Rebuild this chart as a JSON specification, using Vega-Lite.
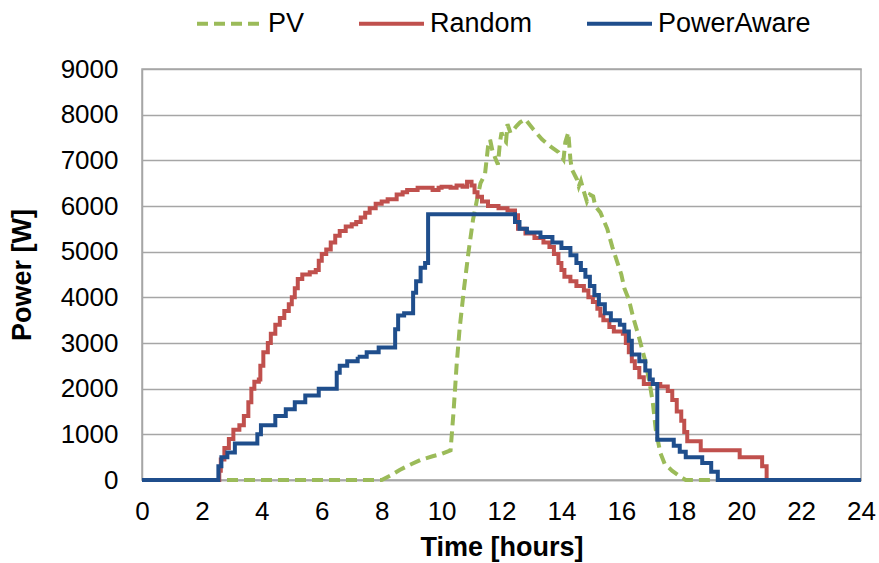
{
  "$schema": "https://vega.github.io/schema/vega-lite/v6.json",
  "autosize": {"type": "none"},
  "width": 719,
  "height": 411,
  "padding": {"left": 142, "top": 69, "right": 18, "bottom": 83},
  "background": "white",
  "config": {
    "font": "Liberation Sans",
    "view": {"stroke": "#a6a6a6", "strokeWidth": 1.5},
    "axis": {"labelFont": "Liberation Sans", "titleFont": "Liberation Sans", "labelColor": "#000000", "titleColor": "#000000", "labelFontSize": 26, "titleFontSize": 27, "titleFontWeight": "bold", "ticks": false, "domainColor": "#a6a6a6", "domainWidth": 1.5, "gridColor": "#a6a6a6", "gridWidth": 1.5}
  },
  "datasets": {
    "pv": [
      {"t":0,"p":0},{"t":8.0,"p":0},{"t":8.3,"p":100},{"t":8.6,"p":220},{"t":9.0,"p":350},{"t":9.3,"p":440},{"t":9.7,"p":520},{"t":10.0,"p":570},{"t":10.3,"p":650},{"t":10.4,"p":1500},{"t":10.5,"p":2500},{"t":10.6,"p":3300},{"t":10.75,"p":4200},{"t":10.9,"p":5000},{"t":11.05,"p":5700},{"t":11.2,"p":6200},{"t":11.3,"p":6500},{"t":11.45,"p":6700},{"t":11.55,"p":7300},{"t":11.62,"p":7450},{"t":11.7,"p":7200},{"t":11.78,"p":7070},{"t":11.88,"p":6910},{"t":11.95,"p":7400},{"t":12.0,"p":7610},{"t":12.08,"p":7450},{"t":12.15,"p":7400},{"t":12.2,"p":7790},{"t":12.3,"p":7600},{"t":12.38,"p":7650},{"t":12.5,"p":7750},{"t":12.62,"p":7830},{"t":12.79,"p":7900},{"t":13.06,"p":7680},{"t":13.35,"p":7460},{"t":13.62,"p":7310},{"t":13.9,"p":7180},{"t":14.07,"p":7020},{"t":14.13,"p":7400},{"t":14.23,"p":7610},{"t":14.3,"p":7020},{"t":14.35,"p":6800},{"t":14.52,"p":6580},{"t":14.58,"p":6430},{"t":14.65,"p":6550},{"t":14.73,"p":6360},{"t":14.85,"p":6100},{"t":14.95,"p":6250},{"t":15.06,"p":6210},{"t":15.13,"p":6000},{"t":15.3,"p":5860},{"t":15.53,"p":5500},{"t":15.7,"p":5100},{"t":15.85,"p":4800},{"t":16.0,"p":4500},{"t":16.1,"p":4200},{"t":16.25,"p":3950},{"t":16.4,"p":3550},{"t":16.6,"p":3100},{"t":16.8,"p":2600},{"t":16.95,"p":2100},{"t":17.05,"p":1700},{"t":17.15,"p":1100},{"t":17.3,"p":600},{"t":17.45,"p":350},{"t":17.7,"p":200},{"t":17.95,"p":80},{"t":18.15,"p":0},{"t":24,"p":0}
    ],
    "random": [
      {"t":0,"p":0},{"t":2.58,"p":200},{"t":2.63,"p":450},{"t":2.75,"p":700},{"t":2.9,"p":900},{"t":3.05,"p":1100},{"t":3.25,"p":1200},{"t":3.4,"p":1400},{"t":3.55,"p":1700},{"t":3.65,"p":2000},{"t":3.75,"p":2150},{"t":3.9,"p":2200},{"t":3.95,"p":2500},{"t":4.05,"p":2800},{"t":4.2,"p":3000},{"t":4.3,"p":3200},{"t":4.45,"p":3400},{"t":4.6,"p":3550},{"t":4.75,"p":3700},{"t":4.9,"p":3850},{"t":5.0,"p":4000},{"t":5.1,"p":4200},{"t":5.2,"p":4400},{"t":5.35,"p":4500},{"t":5.6,"p":4550},{"t":5.8,"p":4600},{"t":5.9,"p":4800},{"t":6.0,"p":4950},{"t":6.15,"p":5050},{"t":6.3,"p":5200},{"t":6.45,"p":5350},{"t":6.6,"p":5450},{"t":6.8,"p":5550},{"t":7.0,"p":5600},{"t":7.15,"p":5650},{"t":7.3,"p":5750},{"t":7.45,"p":5850},{"t":7.6,"p":5950},{"t":7.8,"p":6050},{"t":8.0,"p":6100},{"t":8.2,"p":6150},{"t":8.5,"p":6250},{"t":8.7,"p":6300},{"t":8.85,"p":6350},{"t":9.2,"p":6400},{"t":9.7,"p":6350},{"t":9.9,"p":6400},{"t":10.0,"p":6420},{"t":10.3,"p":6400},{"t":10.5,"p":6450},{"t":10.7,"p":6420},{"t":10.85,"p":6530},{"t":11.0,"p":6450},{"t":11.1,"p":6300},{"t":11.2,"p":6200},{"t":11.35,"p":6100},{"t":11.55,"p":6000},{"t":11.9,"p":5950},{"t":12.2,"p":5900},{"t":12.45,"p":5800},{"t":12.55,"p":5500},{"t":12.8,"p":5400},{"t":13.1,"p":5300},{"t":13.4,"p":5200},{"t":13.6,"p":5100},{"t":13.75,"p":4950},{"t":13.9,"p":4750},{"t":14.0,"p":4600},{"t":14.1,"p":4450},{"t":14.3,"p":4350},{"t":14.5,"p":4250},{"t":14.75,"p":4150},{"t":14.9,"p":4000},{"t":15.05,"p":3900},{"t":15.2,"p":3750},{"t":15.3,"p":3600},{"t":15.4,"p":3500},{"t":15.6,"p":3350},{"t":15.75,"p":3250},{"t":16.05,"p":3200},{"t":16.15,"p":3000},{"t":16.25,"p":2800},{"t":16.35,"p":2600},{"t":16.45,"p":2450},{"t":16.6,"p":2250},{"t":16.75,"p":2100},{"t":17.3,"p":2050},{"t":17.55,"p":1950},{"t":17.7,"p":1750},{"t":17.85,"p":1500},{"t":18.0,"p":1300},{"t":18.1,"p":1050},{"t":18.2,"p":850},{"t":18.65,"p":650},{"t":19.95,"p":500},{"t":20.7,"p":300},{"t":20.85,"p":0},{"t":24,"p":0}
    ],
    "aware": [
      {"t":0,"p":0},{"t":2.55,"p":300},{"t":2.65,"p":500},{"t":2.85,"p":600},{"t":3.1,"p":800},{"t":3.85,"p":1000},{"t":3.97,"p":1200},{"t":4.45,"p":1400},{"t":4.8,"p":1550},{"t":5.1,"p":1700},{"t":5.45,"p":1850},{"t":5.9,"p":2000},{"t":6.5,"p":2350},{"t":6.6,"p":2500},{"t":6.85,"p":2600},{"t":7.2,"p":2700},{"t":7.5,"p":2800},{"t":7.9,"p":2900},{"t":8.45,"p":3300},{"t":8.55,"p":3600},{"t":8.75,"p":3650},{"t":9.05,"p":4100},{"t":9.15,"p":4350},{"t":9.3,"p":4650},{"t":9.45,"p":4750},{"t":9.55,"p":5820},{"t":12.45,"p":5650},{"t":12.6,"p":5500},{"t":12.85,"p":5420},{"t":13.3,"p":5320},{"t":13.7,"p":5200},{"t":14.0,"p":5080},{"t":14.3,"p":4920},{"t":14.5,"p":4750},{"t":14.65,"p":4600},{"t":14.8,"p":4450},{"t":14.95,"p":4250},{"t":15.1,"p":4050},{"t":15.25,"p":3850},{"t":15.45,"p":3650},{"t":15.65,"p":3500},{"t":15.95,"p":3400},{"t":16.1,"p":3250},{"t":16.25,"p":3050},{"t":16.35,"p":2750},{"t":16.6,"p":2600},{"t":16.8,"p":2400},{"t":16.95,"p":2200},{"t":17.05,"p":2100},{"t":17.2,"p":880},{"t":17.75,"p":750},{"t":17.95,"p":620},{"t":18.15,"p":500},{"t":18.7,"p":370},{"t":19.0,"p":180},{"t":19.22,"p":0},{"t":24,"p":0}
    ]
  },
  "encoding": {
    "x": {"field": "t", "type": "quantitative", "title": "Time [hours]", "scale": {"domain": [0, 24], "nice": false, "zero": false},
      "axis": {"values": [0,2,4,6,8,10,12,14,16,18,20,22,24], "grid": false, "labelPadding": 18, "titlePadding": 10, "format": "d", "labelFlush": false}},
    "y": {"field": "p", "type": "quantitative", "title": "Power [W]", "scale": {"domain": [0, 9000], "nice": false},
      "axis": {"values": [0,1000,2000,3000,4000,5000,6000,7000,8000,9000], "grid": true, "labelPadding": 24, "titlePadding": 24, "format": "d"}},
    "color": {"field": "series", "type": "nominal", "title": null,
      "scale": {"domain": ["PV", "Random", "PowerAware"], "range": ["#9BBB59", "#C0504D", "#1F4E8C"]},
      "legend": {"orient": "none", "legendX": 53, "legendY": -80, "direction": "horizontal", "symbolType": "stroke", "symbolSize": 4225, "symbolStrokeWidth": 4, "labelFontSize": 27, "labelColor": "#000000", "labelFont": "Liberation Sans", "columnPadding": 46, "labelOffset": 4, "padding": 0}},
    "strokeDash": {"field": "series", "type": "nominal", "title": null,
      "scale": {"domain": ["PV", "Random", "PowerAware"], "range": [[11, 6], [1, 0], [1, 0]]}}
  },
  "layer": [
    {"data": {"name": "pv"}, "transform": [{"calculate": "'PV'", "as": "series"}],
     "mark": {"type": "line", "strokeWidth": 4, "interpolate": "linear"}},
    {"data": {"name": "random"}, "transform": [{"calculate": "'Random'", "as": "series"}],
     "mark": {"type": "line", "strokeWidth": 4, "interpolate": "step-after"}},
    {"data": {"name": "aware"}, "transform": [{"calculate": "'PowerAware'", "as": "series"}],
     "mark": {"type": "line", "strokeWidth": 4, "interpolate": "step-after"}}
  ]
}
